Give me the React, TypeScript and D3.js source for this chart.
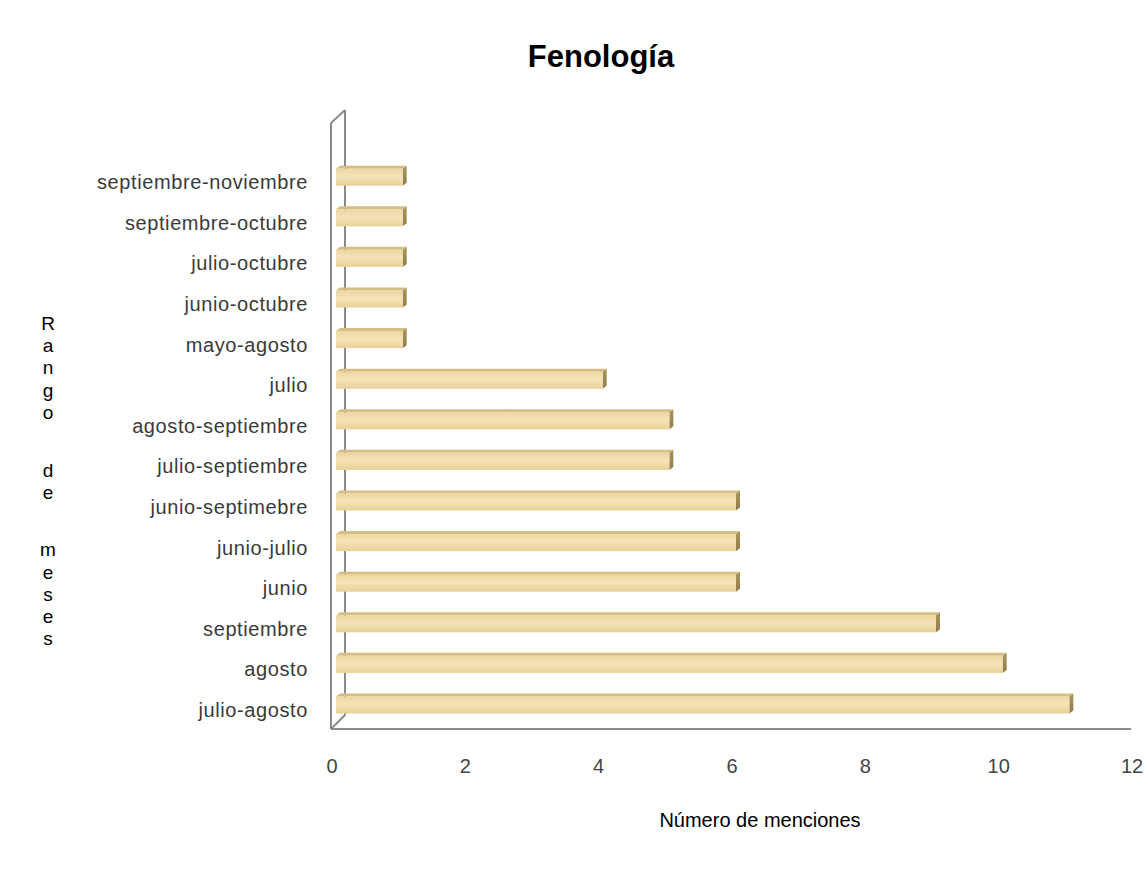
import React from "react";
import * as d3 from "d3";

// Categories listed bottom to top, with the number of mentions for each
const categories = [
  "julio-agosto",
  "agosto",
  "septiembre",
  "junio",
  "junio-julio",
  "junio-septimebre",
  "julio-septiembre",
  "agosto-septiembre",
  "julio",
  "mayo-agosto",
  "junio-octubre",
  "julio-octubre",
  "septiembre-octubre",
  "septiembre-noviembre",
];
const mentions = [11, 10, 9, 6, 6, 6, 5, 5, 4, 1, 1, 1, 1, 1];
const xTicks = [0, 2, 4, 6, 8, 10, 12];

// Vertical axis title, one glyph per row (spaces leave a gap)
const yTitleLetters = ["R", "a", "n", "g", "o", "d", "e", "m", "e", "s", "e", "s"];
const yTitleRows = [0, 1, 2, 3, 4, 6.6, 7.6, 10.2, 11.2, 12.2, 13.2, 14.2];

const W = 1145;
const H = 881;
const FONT = "Arial, 'Liberation Sans', sans-serif";

export default function App() {
  const x = d3.scaleLinear().domain([0, 12]).range([331, 1131]);
  const y = d3
    .scaleBand<string>()
    .domain(categories)
    .range([725.3, 156.9])
    .paddingInner(0.58)
    .paddingOuter(0.29);

  const bw = y.bandwidth();
  const barShift = 5; // bars sit slightly inside the floor depth
  const dx = 4; // bar depth
  const dy = 3;

  // wall geometry
  const frontX = 331;
  const backX = 345;
  const frontTop = 123;
  const backTop = 110;
  const floorY = 729;
  const backBottom = 715;

  return (
    <svg width={W} height={H} style={{ position: "absolute", left: 0, top: 0, background: "#fff" }}>
      <defs>
        <linearGradient id="barFront" x1="0" y1="0" x2="0" y2="1">
          <stop offset="0" stopColor="#ecd6a0" />
          <stop offset="0.45" stopColor="#f4e3b8" />
          <stop offset="1" stopColor="#e9d197" />
        </linearGradient>
        <linearGradient id="barSide" x1="0" y1="0" x2="0" y2="1">
          <stop offset="0" stopColor="#ab955e" />
          <stop offset="1" stopColor="#917b4a" />
        </linearGradient>
      </defs>
      <rect x={0} y={0} width={W} height={H} fill="#fff" />

      {/* title */}
      <text x={601} y={67} textAnchor="middle" fontFamily={FONT} fontWeight="bold" fontSize={31} fill="#000">
        Fenología
      </text>

      {/* back wall edge */}
      <g stroke="#8a8a8a" strokeWidth={2} fill="none">
        <line x1={backX} y1={backTop} x2={backX} y2={backBottom} />
        <line x1={frontX} y1={frontTop} x2={backX} y2={backTop} />
        <line x1={backX} y1={backBottom} x2={frontX} y2={floorY} />
      </g>

      {/* bars */}
      {categories.map((c, i) => {
        const x0 = x(0) + barShift;
        const x1 = x(mentions[i]) + barShift;
        const top = y(c)!;
        const bottom = top + bw;
        return (
          <g key={c}>
            <polygon
              points={`${x0},${top} ${x0 + dx},${top - dy} ${x1 + dx},${top - dy} ${x1},${top}`}
              fill="#d6bd84"
            />
            <polygon
              points={`${x1},${top} ${x1 + dx},${top - dy} ${x1 + dx},${bottom - dy} ${x1},${bottom}`}
              fill="url(#barSide)"
            />
            <rect x={x0} y={top} width={x1 - x0} height={bw} fill="url(#barFront)" />
          </g>
        );
      })}

      {/* front wall edge and floor */}
      <g stroke="#8a8a8a" strokeWidth={2} fill="none">
        <line x1={frontX} y1={frontTop} x2={frontX} y2={floorY} />
        <line x1={frontX} y1={floorY} x2={1131} y2={floorY} />
      </g>

      {/* category labels */}
      {categories.map((c) => (
        <text
          key={c}
          x={308}
          y={y(c)! + bw / 2 + 12}
          textAnchor="end"
          fontFamily={FONT}
          fontSize={20}
          letterSpacing={0.6}
          fill="#3a3a3a"
        >
          {c}
        </text>
      ))}

      {/* x tick labels */}
      {xTicks.map((t) => (
        <text key={t} x={x(t) + 1} y={773} textAnchor="middle" fontFamily={FONT} fontSize={20} fill="#444">
          {t}
        </text>
      ))}

      {/* axis titles */}
      <text x={760} y={827} textAnchor="middle" fontFamily={FONT} fontSize={20} fill="#000">
        Número de menciones
      </text>
      {yTitleLetters.map((ch, i) => (
        <text
          key={i}
          x={48}
          y={330 + yTitleRows[i] * 22.2}
          textAnchor="middle"
          fontFamily={FONT}
          fontSize={19}
          fill="#000"
        >
          {ch}
        </text>
      ))}
    </svg>
  );
}
